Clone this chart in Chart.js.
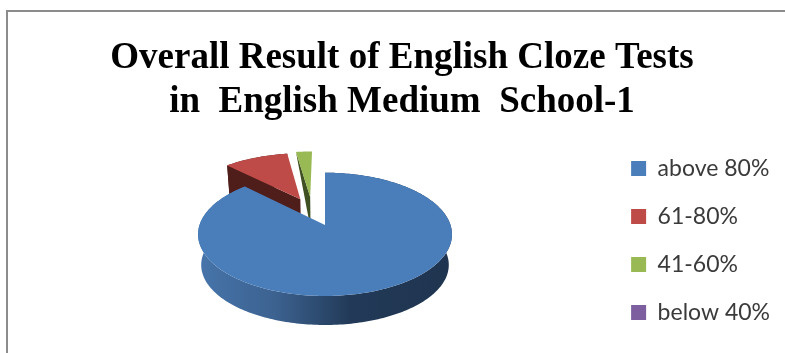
<!DOCTYPE html>
<html>
<head>
<meta charset="utf-8">
<style>
  html, body { margin: 0; background: #fff; overflow: hidden; }
  #frame { position: absolute; left: 6px; top: 10px; width: 785px; height: 353px; border-left: 2px solid #8c8c8c; border-top: 2px solid #8c8c8c; }
  canvas { position: absolute; left: 0; top: 0; }
</style>
</head>
<body>
<div id="frame"></div>
<div style="position:absolute;left:0;top:0;width:785px;height:353px"><canvas id="pie"></canvas></div>
<script src="https://cdn.jsdelivr.net/npm/chart.js@4"></script>
<script>
const categories = ["above 80%", "61-80%", "41-60%", "below 40%"];
const students = [35, 4, 1, 0];
const titleLines = ["Overall Result of English Cloze Tests", "in  English Medium  School-1"];

const topColors = ["#4a7ebb", "#be4b48", "#98b954", "#7d5fa0"];
const edgeColors = ["#2a4565", "#4f1e1b", "#3f5022", "#3a2a4c"];
// how far each slice is pulled out, in pie radii on the ground plane
const pullOut = [[0, 0], [-0.21, -0.457], [-0.127, -0.5], [0, 0]];
// the thin green slice shows only a sliver of its cut face, no rim wall
const showsRimWall = [true, true, false, false];

// perspective of the tilted pie
const tipX = 325, tipY = 225, spanX = 125.5, spanY = 60.2, tilt = 0.1517;
const floorDrop = 30.8, floorScale = 0.975;

function project(u, v, floor) {
  const w = 1 - tilt * v;
  const x = spanX * u / w, y = spanY * v / w;
  if (!floor) return [tipX + x, tipY + y];
  return [tipX + x * floorScale, tipY + floorDrop + y * floorScale];
}

function rimPoints(arc, pull, floor) {
  const pts = [];
  const steps = Math.max(2, Math.ceil((arc.endAngle - arc.startAngle) / 0.02));
  for (let i = 0; i <= steps; i++) {
    const a = arc.startAngle + (arc.endAngle - arc.startAngle) * i / steps;
    pts.push(project(pull[0] + Math.cos(a), pull[1] + Math.sin(a), floor));
  }
  return pts;
}

function tracePath(ctx, pts) {
  ctx.beginPath();
  pts.forEach((p, i) => (i ? ctx.lineTo(p[0], p[1]) : ctx.moveTo(p[0], p[1])));
  ctx.closePath();
}

// replaces the flat arcs with a tilted, thick pie built from the arc angles
const tiltedPie = {
  id: "tiltedPie",
  beforeDatasetDraw(chart, args) {
    const ctx = chart.ctx;
    const arcs = args.meta.data;
    const wall = ctx.createLinearGradient(200, 0, 450, 0);
    wall.addColorStop(0, "#4674aa");
    wall.addColorStop(0.3, "#3c6290");
    wall.addColorStop(0.6, "#223a58");
    wall.addColorStop(1, "#1f344f");

    [2, 1, 0].forEach((i) => {
      const arc = arcs[i], pull = pullOut[i];
      const tip = project(pull[0], pull[1], false);
      const tipFloor = project(pull[0], pull[1], true);
      const rim = rimPoints(arc, pull, false);
      const rimFloor = rimPoints(arc, pull, true);

      ctx.fillStyle = edgeColors[i];
      tracePath(ctx, showsRimWall[i] ? [tip, rim[0], rimFloor[0], tipFloor] : [tip, rim[0], tipFloor]);
      ctx.fill();

      if (showsRimWall[i]) {
        ctx.fillStyle = i === 0 ? wall : edgeColors[i];
        tracePath(ctx, rim.concat(rimFloor.slice().reverse()));
        ctx.fill();
      }

      ctx.fillStyle = topColors[i];
      tracePath(ctx, [tip].concat(rim));
      ctx.fill();
    });
    return false;
  },
};

new Chart(document.getElementById("pie"), {
  type: "pie",
  data: {
    labels: categories,
    datasets: [{ data: students, backgroundColor: topColors, borderWidth: 0 }],
  },
  plugins: [tiltedPie],
  options: {
    responsive: true,
    maintainAspectRatio: false,
    animation: false,
    layout: { padding: { top: 0, right: 5, bottom: 4, left: 24 } },
    plugins: {
      tooltip: { enabled: false },
      title: {
        display: true,
        text: titleLines,
        color: "#000",
        font: { family: "'Liberation Serif'", size: 37, weight: "bold", lineHeight: 1.19 },
        padding: { top: 36, bottom: 4 },
      },
      legend: {
        position: "right",
        align: "end",
        labels: {
          boxWidth: 15,
          boxHeight: 15,
          padding: 25,
          color: "#3a3a3a",
          font: { family: "Lato", size: 23 },
        },
      },
    },
  },
});
</script>
</body>
</html>
